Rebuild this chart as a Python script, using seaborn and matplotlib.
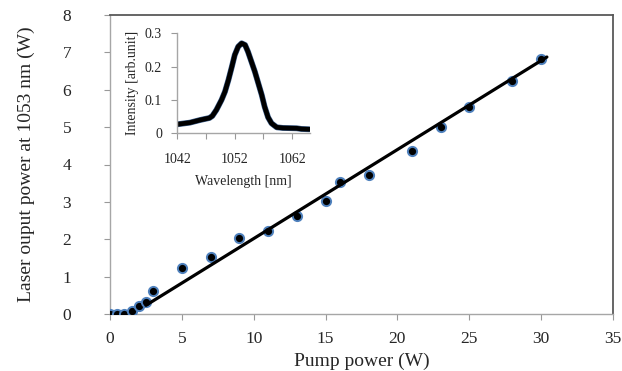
import matplotlib
matplotlib.use("Agg")
import matplotlib.pyplot as plt
import matplotlib.patheffects as pe
import seaborn as sns
import pandas as pd

# Main data: pump power vs laser output power
pump_power = [0, 0.5, 1, 1.5, 2, 2.5, 3, 5, 7, 9, 11, 13, 15, 16, 18, 21, 23, 25, 28, 30]
output_power = [0, 0, 0, 0.08, 0.23, 0.33, 0.63, 1.23, 1.53, 2.03, 2.23, 2.62, 3.02,
                3.53, 3.73, 4.35, 5.01, 5.53, 6.22, 6.83]

# Linear fit (trend line) end points
fit_x = [2.5, 30.4]
fit_y = [0.24, 6.87]

# Inset spectrum
wavelength = [1042.0, 1044.2, 1046.0, 1047.6, 1048.1, 1048.8, 1049.7, 1050.3, 1050.9,
              1051.5, 1052.0, 1052.6, 1053.2, 1053.8, 1054.3, 1054.9, 1055.5, 1056.1,
              1056.7, 1057.2, 1057.8, 1058.4, 1059.3, 1060.4, 1062.8, 1063.6, 1065.0]
intensity = [0.027, 0.032, 0.040, 0.046, 0.052, 0.070, 0.100, 0.125, 0.160,
             0.200, 0.235, 0.260, 0.270, 0.265, 0.245, 0.215, 0.185, 0.150,
             0.115, 0.080, 0.048, 0.030, 0.018, 0.016, 0.015, 0.013, 0.012]

main_xticks = [0, 5, 10, 15, 20, 25, 30, 35]
main_yticks = [0, 1, 2, 3, 4, 5, 6, 7, 8]
inset_xticks = [1042, 1047, 1052, 1057, 1062]
inset_xticklabels = ["1042", "", "1052", "", "1062"]
inset_yticks = [0, 0.1, 0.2, 0.3]
inset_yticklabels = ["0", "0.1", "0.2", "0.3"]

sns.set_style("white")
plt.rcParams["font.family"] = ["Liberation Serif", "DejaVu Serif"]

fig = plt.figure(figsize=(6.22, 3.71), dpi=100)
ax = fig.add_axes([110 / 622, 1 - 314.3 / 371, (613 - 110) / 622, (314.3 - 14.7) / 371])

df = pd.DataFrame({"x": pump_power, "y": output_power})
sns.scatterplot(data=df, x="x", y="y", ax=ax, s=44, color="black",
                edgecolor="#4F81BD", linewidth=1.4, zorder=3, legend=False)
fit_df = pd.DataFrame({"x": fit_x, "y": fit_y})
sns.lineplot(data=fit_df, x="x", y="y", ax=ax, color="black", linewidth=2.3, zorder=4)

ax.set_xlim(0, 35)
ax.set_ylim(0, 8)
ax.set_xticks(main_xticks)
ax.set_yticks(main_yticks)
ax.tick_params(axis="x", direction="out", length=4, width=0.8, color="#999999",
               pad=8, labelsize=12.5, bottom=True)
ax.tick_params(axis="y", direction="out", length=4, width=0.8, color="#999999",
               pad=24, labelsize=12.5, left=True)
ax.set_xlabel("Pump power (W)", fontsize=14, labelpad=4)
ax.set_ylabel("Laser ouput power at 1053 nm (W)", fontsize=14, labelpad=20)
for s in ["left", "bottom"]:
    ax.spines[s].set_color("#a6a6a6")
    ax.spines[s].set_linewidth(1.0)
for s in ["top", "right"]:
    ax.spines[s].set_color("#595959")
    ax.spines[s].set_linewidth(1.3)

# Inset
ins = fig.add_axes([177.3 / 622, 1 - 133.3 / 371, (310 - 177.3) / 622, 100 / 371])
ins.patch.set_alpha(0)
spec_df = pd.DataFrame({"w": wavelength, "i": intensity})
sns.lineplot(data=spec_df, x="w", y="i", ax=ins, color="black", linewidth=3.4,
             path_effects=[pe.Stroke(linewidth=4.2, foreground="#3d5f8c"), pe.Normal()])
ins.set_xlim(1042, 1065.1)
ins.set_ylim(0, 0.3)
ins.set_xticks(inset_xticks)
ins.set_xticklabels(inset_xticklabels)
ins.set_yticks(inset_yticks)
ins.set_yticklabels(inset_yticklabels)
ins.tick_params(axis="x", direction="out", length=4, width=0.8, color="#999999",
                pad=10, labelsize=10, bottom=True)
ins.tick_params(axis="y", direction="out", length=4, width=0.8, color="#999999",
                pad=7, labelsize=10, left=True)
ins.set_xlabel("Wavelength [nm]", fontsize=10, labelpad=7)
ins.set_ylabel("Intensity [arb.unit]", fontsize=10, labelpad=4)
for s in ["top", "right"]:
    ins.spines[s].set_visible(False)
for s in ["left", "bottom"]:
    ins.spines[s].set_color("#a6a6a6")
    ins.spines[s].set_linewidth(1.0)

fig.savefig("out.png", dpi=100)
